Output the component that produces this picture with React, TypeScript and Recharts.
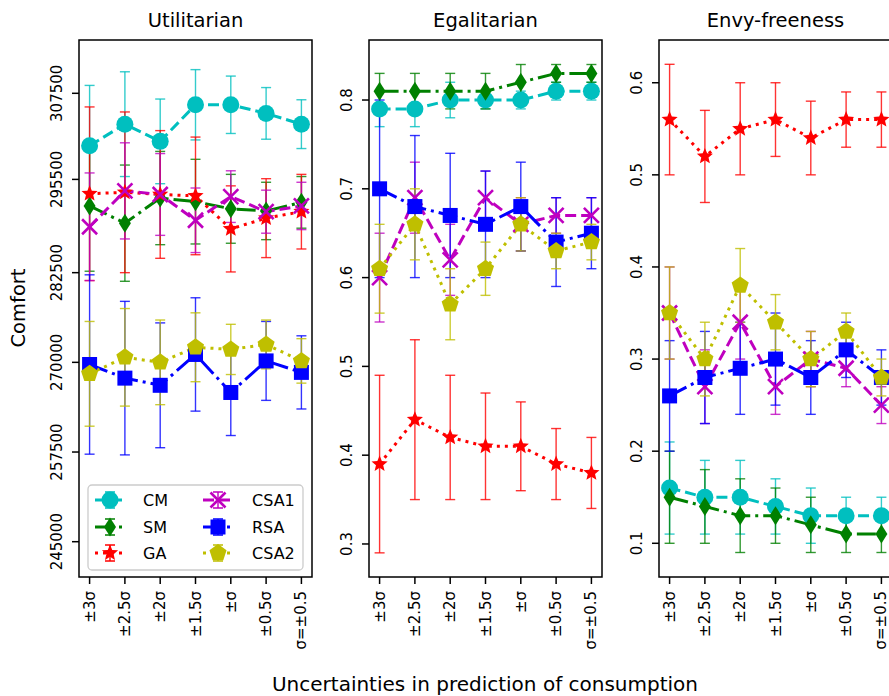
import React from "react";
import { ErrorBar, Line, LineChart, ReferenceArea, XAxis, YAxis } from "recharts";

const categories = ["±3σ", "±2.5σ", "±2σ", "±1.5σ", "±σ", "±0.5σ", "σ=±0.5"];
const seriesNames = ["CM", "SM", "GA", "CSA1", "RSA", "CSA2"];

// Utilitarian
const utilCM = [300200, 303200, 300800, 305900, 305900, 304700, 303200];
const utilCMErr = [8400, 7300, 5900, 4900, 4000, 3600, 3400];
const utilSM = [291800, 289400, 292900, 292400, 291400, 291100, 292300];
const utilSMErr = [9100, 8100, 6500, 5900, 4800, 4000, 3600];
const utilGA = [293500, 293700, 293400, 293200, 288600, 290100, 291000];
const utilGAErr = [12100, 11200, 8900, 8200, 6000, 5500, 5200];
const utilCSA1 = [288900, 293900, 293400, 289800, 293100, 291000, 291800];
const utilCSA1Err = [7500, 6700, 5700, 4500, 3600, 3000, 3300];
const utilRSA = [269700, 267800, 266800, 271100, 265800, 270200, 268600];
const utilRSAErr = [12500, 10700, 8700, 7900, 6000, 5500, 5100];
const utilCSA2 = [268400, 270700, 270000, 272100, 271800, 272500, 270200];
const utilCSA2Err = [7300, 6800, 5900, 4800, 3500, 3400, 3100];
const utilTicks = [245000, 257500, 270000, 282500, 295500, 307500];

// Egalitarian
const egalCM = [0.79, 0.79, 0.8, 0.8, 0.8, 0.81, 0.81];
const egalCMErr = [0.02, 0.02, 0.02, 0.01, 0.01, 0.01, 0.01];
const egalSM = [0.81, 0.81, 0.81, 0.81, 0.82, 0.83, 0.83];
const egalSMErr = [0.02, 0.02, 0.02, 0.02, 0.02, 0.01, 0.01];
const egalGA = [0.39, 0.44, 0.42, 0.41, 0.41, 0.39, 0.38];
const egalGAErr = [0.1, 0.09, 0.07, 0.06, 0.05, 0.04, 0.04];
const egalCSA1 = [0.6, 0.69, 0.62, 0.69, 0.66, 0.67, 0.67];
const egalCSA1Err = [0.05, 0.04, 0.04, 0.03, 0.03, 0.02, 0.02];
const egalRSA = [0.7, 0.68, 0.67, 0.66, 0.68, 0.64, 0.65];
const egalRSAErr = [0.1, 0.08, 0.07, 0.06, 0.05, 0.05, 0.04];
const egalCSA2 = [0.61, 0.66, 0.57, 0.61, 0.66, 0.63, 0.64];
const egalCSA2Err = [0.05, 0.04, 0.04, 0.03, 0.03, 0.02, 0.02];
const egalTicks = [0.3, 0.4, 0.5, 0.6, 0.7, 0.8];

// Envy-freeness
const envyCM = [0.16, 0.15, 0.15, 0.14, 0.13, 0.13, 0.13];
const envyCMErr = [0.05, 0.04, 0.04, 0.03, 0.03, 0.02, 0.02];
const envySM = [0.15, 0.14, 0.13, 0.13, 0.12, 0.11, 0.11];
const envySMErr = [0.05, 0.04, 0.04, 0.03, 0.03, 0.02, 0.02];
const envyGA = [0.56, 0.52, 0.55, 0.56, 0.54, 0.56, 0.56];
const envyGAErr = [0.06, 0.05, 0.05, 0.04, 0.04, 0.03, 0.03];
const envyCSA1 = [0.35, 0.27, 0.34, 0.27, 0.3, 0.29, 0.25];
const envyCSA1Err = [0.05, 0.04, 0.04, 0.03, 0.03, 0.02, 0.02];
const envyRSA = [0.26, 0.28, 0.29, 0.3, 0.28, 0.31, 0.28];
const envyRSAErr = [0.06, 0.05, 0.05, 0.05, 0.04, 0.03, 0.03];
const envyCSA2 = [0.35, 0.3, 0.38, 0.34, 0.3, 0.33, 0.28];
const envyCSA2Err = [0.05, 0.04, 0.04, 0.03, 0.03, 0.02, 0.02];
const envyTicks = [0.1, 0.2, 0.3, 0.4, 0.5, 0.6];

const FONT = "DejaVu Sans, Verdana, sans-serif";

type Shape = "circle" | "diamond" | "star" | "x" | "square" | "pentagon";

const STYLE: Record<string, { color: string; dash: string; shape: Shape }> = {
  CM: { color: "#00bfbf", dash: "11 5", shape: "circle" },
  SM: { color: "#008000", dash: "19 5 3 5", shape: "diamond" },
  GA: { color: "#ff0000", dash: "3 5", shape: "star" },
  CSA1: { color: "#bf00bf", dash: "11 5", shape: "x" },
  RSA: { color: "#0000ff", dash: "19 5 3 5", shape: "square" },
  CSA2: { color: "#bfbf00", dash: "3 5", shape: "pentagon" },
};

function buildRows(vals: number[][], errs: number[][]) {
  return categories.map((_, i) => {
    const row: Record<string, number> = { i };
    seriesNames.forEach((s, k) => {
      row[s] = vals[k][i];
      row[s + "_err"] = errs[k][i];
    });
    return row;
  });
}

const panels = [
  {
    title: "Utilitarian",
    left: 0,
    width: 320,
    yWidth: 79,
    domain: [240080, 314930],
    ticks: utilTicks,
    fmt: (v: number) => String(v),
    rows: buildRows(
      [utilCM, utilSM, utilGA, utilCSA1, utilRSA, utilCSA2],
      [utilCMErr, utilSMErr, utilGAErr, utilCSA1Err, utilRSAErr, utilCSA2Err]
    ),
  },
  {
    title: "Egalitarian",
    left: 320,
    width: 290,
    yWidth: 49,
    domain: [0.2628, 0.8676],
    ticks: egalTicks,
    fmt: (v: number) => v.toFixed(1),
    rows: buildRows(
      [egalCM, egalSM, egalGA, egalCSA1, egalRSA, egalCSA2],
      [egalCMErr, egalSMErr, egalGAErr, egalCSA1Err, egalRSAErr, egalCSA2Err]
    ),
  },
  {
    title: "Envy-freeness",
    left: 610,
    width: 290,
    yWidth: 49,
    domain: [0.0634, 0.6464],
    ticks: envyTicks,
    fmt: (v: number) => v.toFixed(1),
    rows: buildRows(
      [envyCM, envySM, envyGA, envyCSA1, envyRSA, envyCSA2],
      [envyCMErr, envySMErr, envyGAErr, envyCSA1Err, envyRSAErr, envyCSA2Err]
    ),
  },
];

function polyPoints(cx: number, cy: number, n: number, rOut: number, rIn?: number) {
  const pts: string[] = [];
  const count = rIn ? n * 2 : n;
  for (let k = 0; k < count; k++) {
    const r = rIn && k % 2 === 1 ? rIn : rOut;
    const a = -Math.PI / 2 + (k * Math.PI * 2) / count;
    pts.push(`${cx + r * Math.cos(a)},${cy + r * Math.sin(a)}`);
  }
  return pts.join(" ");
}

function Marker({ shape, cx, cy, color }: { shape: Shape; cx: number; cy: number; color: string }) {
  switch (shape) {
    case "circle":
      return <circle cx={cx} cy={cy} r={8.5} fill={color} />;
    case "diamond":
      return <polygon points={`${cx},${cy - 9.5} ${cx + 6},${cy} ${cx},${cy + 9.5} ${cx - 6},${cy}`} fill={color} />;
    case "star":
      return <polygon points={polyPoints(cx, cy, 5, 8.5, 3.8)} fill={color} />;
    case "x":
      return (
        <path
          d={`M${cx - 7.5},${cy - 7.5}L${cx + 7.5},${cy + 7.5}M${cx - 7.5},${cy + 7.5}L${cx + 7.5},${cy - 7.5}`}
          stroke={color}
          strokeWidth={2.6}
        />
      );
    case "square":
      return <rect x={cx - 7.5} y={cy - 7.5} width={15} height={15} fill={color} />;
    default:
      return <polygon points={polyPoints(cx, cy, 5, 9)} fill={color} />;
  }
}

function YTick(props: any) {
  const { x, y, payload, fmt } = props;
  return (
    <text
      transform={`translate(${x - 8},${y}) rotate(-90)`}
      textAnchor="middle"
      fontSize={15}
      fontFamily={FONT}
      fill="#000"
    >
      {fmt(payload.value)}
    </text>
  );
}

function XTick(props: any) {
  const { x, y, payload } = props;
  return (
    <text
      transform={`translate(${x + 5},${y + 5}) rotate(-90)`}
      textAnchor="end"
      fontSize={15}
      fontFamily={FONT}
      fill="#000"
    >
      {categories[payload.value]}
    </text>
  );
}

function Panel({ p }: { p: (typeof panels)[number] }) {
  return (
    <div style={{ position: "absolute", left: p.left, top: 0 }}>
      <LineChart
        width={p.width}
        height={696}
        data={p.rows}
        margin={{ top: 40, right: 8, bottom: 0, left: 0 }}
      >
        <XAxis
          type="number"
          dataKey="i"
          domain={[-0.3, 6.3]}
          ticks={[0, 1, 2, 3, 4, 5, 6]}
          allowDataOverflow
          height={119}
          tickSize={7}
          axisLine={false}
          tickLine={{ stroke: "#000", strokeWidth: 1.5 }}
          tick={<XTick />}
          interval={0}
        />
        <YAxis
          type="number"
          domain={p.domain}
          ticks={p.ticks}
          allowDataOverflow
          width={p.yWidth}
          tickSize={7}
          axisLine={false}
          tickLine={{ stroke: "#000", strokeWidth: 1.5 }}
          tick={<YTick fmt={p.fmt} />}
          interval={0}
        />
        {seriesNames.map((s) => {
          const st = STYLE[s];
          return (
            <Line
              key={s}
              dataKey={s}
              stroke={st.color}
              strokeWidth={3}
              strokeDasharray={st.dash}
              isAnimationActive={false}
              activeDot={false}
              dot={(d: any) => (
                <Marker key={`${s}-${d.index}`} shape={st.shape} cx={d.cx} cy={d.cy} color={st.color} />
              )}
            >
              <ErrorBar
                dataKey={s + "_err"}
                direction="y"
                width={5}
                stroke={st.color}
                strokeWidth={1.4}
                strokeOpacity={0.8}
                isAnimationActive={false}
              />
            </Line>
          );
        })}
        <ReferenceArea
          x1={-0.3}
          x2={6.3}
          y1={p.domain[0]}
          y2={p.domain[1]}
          fill="none"
          stroke="#000"
          strokeWidth={1.5}
          ifOverflow="visible"
        />
      </LineChart>
    </div>
  );
}

function Legend() {
  const cols = [
    { lineX: 95, textX: 143 },
    { lineX: 203, textX: 252 },
  ];
  const rowsY = [500, 527, 553];
  return (
    <g>
      <rect x={88} y={485} width={215} height={85} rx={4} fill="#fff" fillOpacity={0.8} stroke="#cccccc" strokeWidth={1.3} />
      {seriesNames.map((s, k) => {
        const st = STYLE[s];
        const c = cols[Math.floor(k / 3)];
        const y = rowsY[k % 3];
        const mx = c.lineX + 15;
        return (
          <g key={s}>
            <line x1={c.lineX} x2={c.lineX + 30} y1={y} y2={y} stroke={st.color} strokeWidth={3} strokeDasharray={st.dash} />
            <path
              d={`M${mx},${y - 8}L${mx},${y + 8}M${mx - 5},${y - 8}L${mx + 5},${y - 8}M${mx - 5},${y + 8}L${mx + 5},${y + 8}`}
              stroke={st.color}
              strokeWidth={1.4}
            />
            <Marker shape={st.shape} cx={mx} cy={y} color={st.color} />
            <text x={c.textX} y={y + 6} fontSize={16} fontFamily={FONT} fill="#000">
              {s}
            </text>
          </g>
        );
      })}
    </g>
  );
}

export default function App() {
  return (
    <div
      style={{
        position: "absolute",
        left: 0,
        top: 0,
        width: 889,
        height: 696,
        overflow: "hidden",
        background: "#fff",
      }}
    >
      {panels.map((p) => (
        <Panel key={p.title} p={p} />
      ))}
      <svg width={889} height={696} style={{ position: "absolute", left: 0, top: 0, pointerEvents: "none" }}>
        {panels.map((p) => (
          <text
            key={p.title}
            x={p.left + p.yWidth + (p.width - p.yWidth - 8) / 2}
            y={27}
            textAnchor="middle"
            fontSize={19.5}
            fontFamily={FONT}
            fill="#000"
          >
            {p.title}
          </text>
        ))}
        <text transform="translate(25,308) rotate(-90)" textAnchor="middle" fontSize={19.5} fontFamily={FONT} fill="#000">
          Comfort
        </text>
        <text x={485} y={691} textAnchor="middle" fontSize={20} fontFamily={FONT} fill="#000">
          Uncertainties in prediction of consumption
        </text>
        <Legend />
      </svg>
    </div>
  );
}
